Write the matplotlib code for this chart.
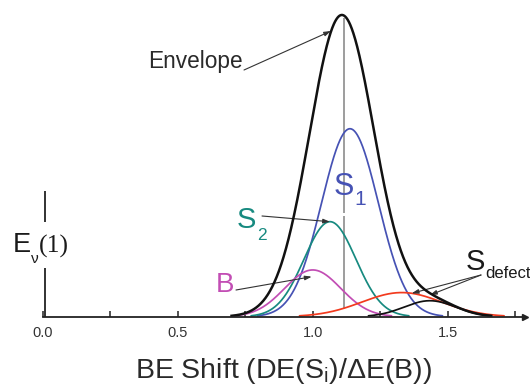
import numpy as np
import matplotlib
matplotlib.use('Agg')
import matplotlib.pyplot as plt

plt.rcParams['font.family'] = ['Liberation Sans', 'DejaVu Sans']
plt.rcParams['mathtext.fontset'] = 'custom'
plt.rcParams['mathtext.rm'] = 'Liberation Sans'
plt.rcParams['mathtext.it'] = 'Liberation Sans'

# ---------------- data ----------------
component_names = ['S1', 'S2', 'B', 'S_defect_a', 'S_defect_b']
component_centers = [1.138, 1.064, 1.000, 1.330, 1.434]
component_heights = [0.623, 0.315, 0.155, 0.080, 0.053]
component_widths = [0.105, 0.096, 0.104, 0.148, 0.095]
component_colors = ['#4652B4', '#178A80', '#C24DB4', '#F23A1E', '#111111']

envelope_center = 1.108
envelope_height = 1.0
envelope_width = 0.12

x_ticks = [0.0, 0.5, 1.0, 1.5]
x_tick_labels = ['0.0', '0.5', '1.0', '1.5']
x_minor_ticks = [0.25, 0.75, 1.25, 1.75]

# ---------------- figure ----------------
W, H = 530, 392
fig = plt.figure(figsize=(W / 100, H / 100), dpi=100)
x0_px, x_right_px, axis_px, px_per_x, px_per_y = 42.7, 525.0, 316.7, 270.0, 301.7
ax = fig.add_axes([x0_px / W, (H - axis_px) / H, (x_right_px - x0_px) / W, axis_px / H])
ax.set_xlim(0, (x_right_px - x0_px) / px_per_x)
ax.set_ylim(0, axis_px / px_per_y)


def gauss(x, c, h, s):
    return h * np.exp(-((x - c) ** 2) / (2 * s ** 2))


x = np.linspace(0, 1.78, 1500)

comps = []
for c, h, s, col in zip(component_centers, component_heights, component_widths, component_colors):
    y = gauss(x, c, h, s)
    comps.append(y)
    yy = np.where(y > 0.003, y, np.nan)
    ax.plot(x, yy, color=col, lw=1.25, zorder=3, solid_capstyle='round')

env = gauss(x, envelope_center, envelope_height, envelope_width) + comps[4]
ax.plot(x, np.where(env > 0.003, env, np.nan), color='#111111', lw=1.8, zorder=4)

# vertical guide line at the envelope maximum (broken behind the S1 label)
gx = envelope_center + 0.007
ax.vlines([gx, gx], [0.028, 0.344], [0.335, 0.99],
          color='#8c8c8c', lw=1.2, zorder=2)

# axes styling
for sp in ['top', 'right', 'left']:
    ax.spines[sp].set_visible(False)
ax.spines['bottom'].set_linewidth(1.3)
ax.spines['bottom'].set_color('#222222')
ax.spines['bottom'].set_zorder(5)
ax.plot([1], [0], marker='>', ms=5, color='#222222', transform=ax.transAxes,
        clip_on=False, zorder=6)
# broken y axis line
ax.vlines([0.008, 0.008], [0.0, 0.314], [0.161, 0.417], color='#222222', lw=1.3,
          clip_on=False, zorder=5)

ax.set_yticks([])
ax.set_xticks(x_ticks)
ax.set_xticklabels(x_tick_labels)
ax.set_xticks(x_minor_ticks, minor=True)
ax.tick_params(axis='x', which='both', direction='in', length=4.5, width=1.1,
               color='#222222', labelsize=10.5, labelcolor='#333333', pad=6.5)
ax.set_xlabel('BE Shift (DE(S$_\\mathregular{i}$)/\u0394E(B))', fontsize=20.5,
              color='#2a2a2a', labelpad=12)


def d(px, py):
    return ((px - x0_px) / px_per_x, (axis_px - py) / px_per_y)


arrow_kw = dict(arrowstyle='-|>,head_length=0.4,head_width=0.13', color='#333333',
                lw=0.8, shrinkA=0, shrinkB=0)

# Envelope label
ax.text(*d(243, 67.7), 'Envelope', fontsize=16.3, color='#2a2a2a', ha='right', va='baseline')
ax.annotate('', xy=d(331, 31), xytext=d(244, 70), arrowprops=arrow_kw)

# S1 label
ax.text(*d(334, 195), 'S', fontsize=22, color=component_colors[0], va='baseline')
ax.text(*d(354, 205), '1', fontsize=15, color=component_colors[0], va='baseline')

# S2 label
ax.text(*d(237, 228), 'S', fontsize=21, color=component_colors[1], va='baseline')
ax.text(*d(257, 240), '2', fontsize=12.5, color=component_colors[1], va='baseline')
ax.annotate('', xy=d(330, 221.7), xytext=d(262, 216), arrowprops=arrow_kw)

# B label
ax.text(*d(216, 292), 'B', fontsize=20, color=component_colors[2], va='baseline')
ax.annotate('', xy=d(311.7, 276.7), xytext=d(236, 290), arrowprops=arrow_kw)

# S_defect label
ax.text(*d(466, 270), 'S', fontsize=21, color='#1a1a1a', va='baseline')
ax.text(*d(485, 277.5), 'defect', fontsize=12, color='#1a1a1a', va='baseline')
ax.annotate('', xy=d(411.7, 293.3), xytext=d(481, 275), arrowprops=arrow_kw)
ax.annotate('', xy=d(430, 295), xytext=d(481, 275), arrowprops=arrow_kw)

# E_nu(1) label
ax.text(*d(12.5, 252), 'E', fontsize=19.5, color='#1a1a1a', va='baseline')
ax.text(*d(31, 263), '\u03bd', fontsize=11, color='#1a1a1a', va='baseline')
ax.text(*d(39, 252.5), '(1)', fontsize=18.5, color='#1a1a1a', va='baseline',
        family=['Liberation Serif', 'DejaVu Serif'])

fig.savefig('out.png', dpi=100)
